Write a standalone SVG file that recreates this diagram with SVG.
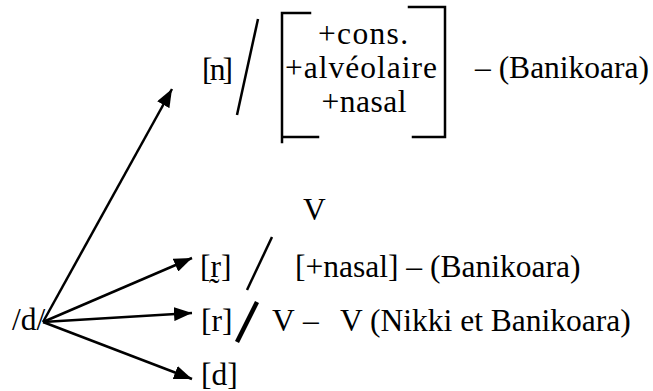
<svg xmlns="http://www.w3.org/2000/svg" width="653" height="391" viewBox="0 0 653 391">
<style>
text{font-family:'Liberation Serif','Times New Roman',Times,'Nimbus Roman','Nimbus Roman No9 L',FreeSerif,'Noto Serif','DejaVu Serif',Georgia,serif;font-size:31.5px;fill:#000}
.ln{stroke:#000;stroke-width:2.5;fill:none}
.br{stroke:#000;stroke-width:2.5;fill:none;stroke-linecap:square}
</style>
<defs>
<marker id="ah" markerUnits="userSpaceOnUse" markerWidth="20" markerHeight="14" refX="18" refY="7" orient="auto">
<path d="M0,0 L18,7 L0,14 Z" fill="#000"/>
</marker>
</defs>
<rect width="653" height="391" fill="#fff"/>
<g id="connectors">
<line class="ln" x1="43" y1="322" x2="172" y2="89" marker-end="url(#ah)"/>
<line class="ln" x1="43" y1="322" x2="192" y2="258" marker-end="url(#ah)"/>
<line class="ln" x1="43" y1="322" x2="192" y2="313" marker-end="url(#ah)"/>
<line class="ln" x1="43" y1="322" x2="192" y2="379" marker-end="url(#ah)"/>
</g>
<g id="source"><text x="12" y="330">/d/</text></g>
<g id="n-rule">
<text x="202" y="80" textLength="31">[n]</text>
<line class="ln" x1="258" y1="19" x2="237" y2="115"/>
<path class="br" d="M310,13 H282 V142 M282,137 H318"/>
<path class="br" d="M409,7 H445 V137 H413"/>
<text x="363" y="44" text-anchor="middle" textLength="90">+cons.</text>
<text x="285" y="78" textLength="152">+alvéolaire</text>
<text x="364" y="112" text-anchor="middle" textLength="85">+nasal</text>
<text x="475" y="78">– (Banikoara)</text>
</g>
<g id="r-tilde-rule">
<text x="303" y="220">V</text>
<text x="200" y="277">[r̰]</text>
<line class="ln" x1="272" y1="237" x2="247" y2="290"/>
<text x="295" y="277">[+nasal] – (Banikoara)</text>
</g>
<g id="r-rule">
<text x="201" y="331">[r]</text>
<line x1="257" y1="302" x2="237" y2="342" stroke="#000" stroke-width="4.5"/>
<text x="272" y="331">V</text>
<text x="303" y="331">–</text>
<text x="340" y="331">V (Nikki et Banikoara)</text>
</g>
<g id="d-out"><text x="201" y="385">[d]</text></g>
</svg>
